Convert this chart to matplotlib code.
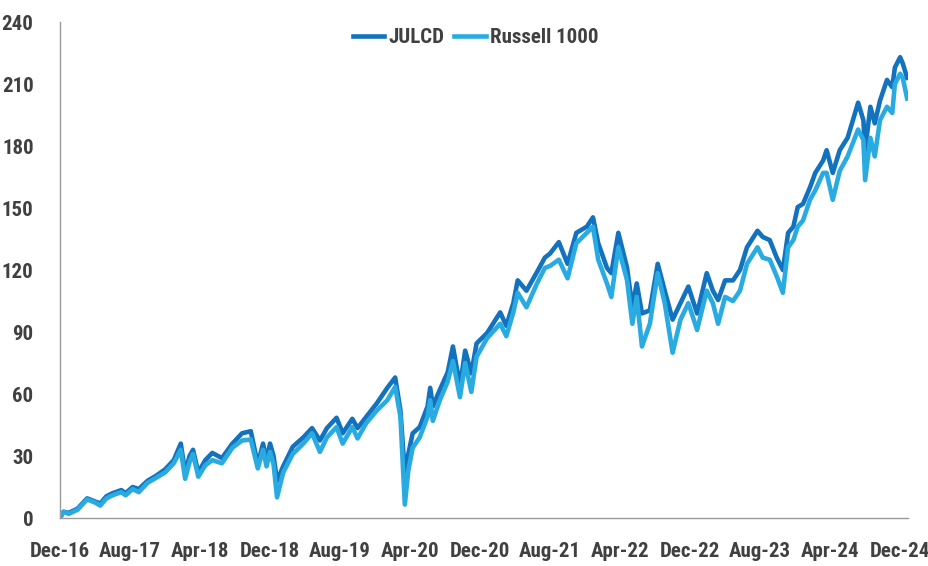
import matplotlib
matplotlib.use("Agg")
import matplotlib.pyplot as plt
from matplotlib import font_manager

# months since Dec-16
months = [0, 0.4, 1, 2, 3.1, 4, 4.6, 5.3, 6, 7, 7.5, 8.3, 9, 10, 11, 12, 13,
          13.8, 14.3, 14.8, 15.2, 15.8, 16.6, 17.4, 18.5, 19.7, 20.8, 21.8,
          22.6, 23.2, 23.6, 24.0, 24.4, 24.8, 25.5, 26.6, 27.8, 28.8, 29.7,
          30.5, 31.6, 32.3, 33.4, 34, 35, 36.2, 37.4, 38.3, 38.9, 39.4, 39.8,
          40.3, 41.1, 42, 42.3, 42.6, 43.4, 44.3, 44.9, 45.7, 46.3, 47, 47.6,
          48.8, 50.3, 51, 51.8, 52.3, 53.3, 54.5, 55.4, 56, 57, 58, 59, 60.2,
          60.9, 61.5, 62.5, 63, 63.8, 64.8, 65.4, 65.9, 66.5, 67.4, 68.3, 69.1,
          70, 70.9, 71.8, 72.8, 73.9, 74.6, 75.2, 76, 76.9, 77.7, 78.5, 79.7,
          80.3, 81.1, 81.9, 82.6, 83.2, 83.8, 84.3, 84.9, 85.7, 86.3, 87.2,
          87.6, 88.3, 89.1, 90, 91.2, 91.8, 92, 92.6, 93.1, 93.7, 94.5, 95.1,
          95.4, 96, 96.3, 96.8]

julcd = [0, 3, 2.5, 4.5, 9.5, 8, 7, 10.5, 12, 13.5, 12, 15, 14, 18, 20.5, 23.5, 28,
         36, 22, 30, 33, 22, 28, 31.5, 29, 36, 41, 42,
         26, 36, 28, 36, 30, 18, 25, 34.5, 39, 43.5, 37.5,
         43.5, 48.5, 41, 48, 43.5, 49, 55.5, 63, 68, 52, 21.5, 31,
         41, 44, 54, 63, 54, 62, 70.5, 83, 64, 81, 70, 84.5,
         89.5, 99.5, 93, 104, 115, 110, 119, 126, 128, 133.5, 123, 138, 141,
         145.5, 133, 121, 118.5, 138, 121, 102, 113.5, 99, 100.5, 123, 110,
         96, 104, 112, 99, 118.5, 110, 105.5, 115, 115, 120, 131, 139,
         136, 134.5, 126, 120, 138, 141, 150.5, 152, 160, 167, 173,
         178, 167, 178, 184, 201, 192.5, 178, 199, 191, 202, 212, 208.5,
         218, 223, 220, 213]

russell = [0, 3, 2, 4, 9, 7.5, 6, 9.5, 11, 12.5, 11, 14, 12.5, 17, 19.5, 22, 26.5,
           33, 19, 27, 31, 20, 25.5, 28, 26.5, 34, 37.5, 38,
           24, 33, 25, 32, 26, 10, 22, 31, 36, 41, 32,
           39, 44, 36, 44, 38.5, 46, 52, 57, 63.5, 49, 6.5, 23,
           34, 39, 49, 57, 47, 57, 66, 76, 58.5, 75, 61, 78,
           87, 94, 88, 99.5, 109, 102, 113.5, 121, 122, 125, 116, 133, 138,
           141, 125, 113.5, 107, 131, 115, 94, 107, 83, 94, 118.5, 104,
           80, 96, 104, 91, 110, 104, 94, 107, 105, 110, 123, 131,
           126, 125, 117, 109, 131, 134.5, 141, 144, 154, 158.5, 167,
           167, 154, 168, 175, 188, 183, 163.5, 184, 175, 192.5, 199, 196,
           210, 215, 213, 203]

tick_months = [0, 8, 16, 24, 32, 40, 48, 56, 64, 72, 80, 88, 96]
tick_labels = ["Dec-16", "Aug-17", "Apr-18", "Dec-18", "Aug-19", "Apr-20", "Dec-20",
               "Aug-21", "Apr-22", "Dec-22", "Aug-23", "Apr-24", "Dec-24"]
y_ticks = [0, 30, 60, 90, 120, 150, 180, 210, 240]

text_col = "#404040"

# pick a narrow font if one is installed
names = {f.name for f in font_manager.fontManager.ttflist}
stretch = "normal"
if "Liberation Sans Narrow" in names:
    fam, fsize = "Liberation Sans Narrow", 15
elif "Roboto Condensed" in names:
    fam, fsize = "Roboto Condensed", 15
elif any(f.name == "DejaVu Sans" and "ondensed" in str(f.stretch) for f in font_manager.fontManager.ttflist):
    fam, fsize, stretch = "DejaVu Sans", 12.5, "condensed"
else:
    fam, fsize = "DejaVu Sans", 11
font = font_manager.FontProperties(family=fam, weight="bold", size=fsize, stretch=stretch)

fig = plt.figure(figsize=(9.29, 5.66), dpi=100)
ax = fig.add_axes([0.0646, 0.0848, 0.9128, 0.8762])

ax.plot(months, julcd, color="#1272BE", lw=3.3, solid_joinstyle="round", label="JULCD")
ax.plot(months, russell, color="#29ABE2", lw=3.3, solid_joinstyle="round", label="Russell 1000")

ax.set_xlim(0, 96.9)
ax.set_ylim(0, 240)
ax.set_xticks(tick_months)
ax.set_xticklabels(tick_labels)
ax.set_yticks(y_ticks)

for lab in ax.get_xticklabels() + ax.get_yticklabels():
    lab.set_fontproperties(font)
    lab.set_color(text_col)

ax.tick_params(axis="both", length=0)
ax.tick_params(axis="y", pad=19)
ax.tick_params(axis="x", pad=17)

for s in ["top", "right"]:
    ax.spines[s].set_visible(False)
for s in ["left", "bottom"]:
    ax.spines[s].set_color("#999999")
    ax.spines[s].set_linewidth(1.0)

leg = ax.legend(loc="upper center", bbox_to_anchor=(0.49, 1.025), ncol=2, frameon=False,
                handlelength=1.5, handletextpad=0.2, columnspacing=0.5, prop=font)
for t in leg.get_texts():
    t.set_color(text_col)

fig.savefig("out.png", dpi=100)
